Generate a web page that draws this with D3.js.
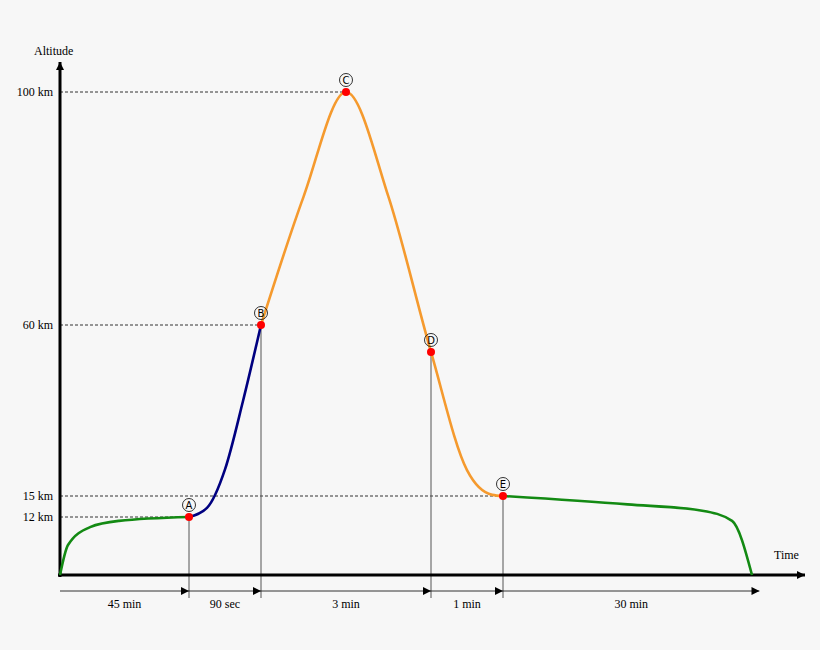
<!DOCTYPE html>
<html><head><meta charset="utf-8">
<script src="https://cdn.jsdelivr.net/npm/d3@7"></script>
<style>body{margin:0;background:#f7f7f7}svg{display:block}text{font-family:"Liberation Serif",serif;font-size:12px}</style>
</head><body><svg id="c" width="820" height="650"></svg>
<script>
// schematic phase boundaries (index) and altitudes (km)
const phaseLabels = ["45 min","90 sec","3 min","1 min","30 min"];
const altTicks = [12,15,60,100];
const climb = [[0,0],[0.062,6.2],[0.233,9.9],[0.457,11.2],[1,12]];
const boost = [[1,12],[1.25,13.3],[1.5,22],[1.75,40],[2,60]];
const coast = [[2,60],[2.25,82],[2.5,100],[2.75,82],[3,52.9],[3.5,21.8],[3.85,15.3],[4,15]];
const glide = [[4,15],[4.5,13.8],[4.8,12.9],[4.92,11.2],[5,0]];
const events = [{n:"A",t:1,a:12},{n:"B",t:2,a:60},{n:"C",t:2.5,a:100},{n:"D",t:3,a:52.9},{n:"E",t:4,a:15}];

const svg = d3.select("#c");
const x = d3.scaleLinear().domain([0,1,2,3,4,5]).range([60,189,261,431,503,752]);
const y = d3.scaleLinear().domain([0,12,15,60,100]).range([575,517,496,325,92]);

svg.append("defs").html('<marker id="ar" viewBox="0 0 10 10" refX="10" refY="5" markerWidth="8" markerHeight="8" orient="auto" markerUnits="userSpaceOnUse"><path d="M0,0L10,5L0,10z" fill="#000"/></marker>');

// dashed guides
const guideEnd = {12:1,15:4,60:2,100:2.5};
altTicks.forEach(a=>{
  svg.append("line").attr("x1",60).attr("x2",x(guideEnd[a])).attr("y1",y(a)).attr("y2",y(a))
    .attr("stroke","#000").attr("stroke-width",0.8).attr("stroke-dasharray","3,2");
  svg.append("text").attr("x",53).attr("y",y(a)+4).attr("text-anchor","end").text(a+" km");
});
// verticals
events.filter(e=>e.n!=="C").forEach(e=>{
  svg.append("line").attr("x1",x(e.t)).attr("x2",x(e.t)).attr("y1",y(e.a)).attr("y2",598)
    .attr("stroke","#555").attr("stroke-width",1);
});
// timeline
const bounds=[0,1,2,3,4,5.03];
for(let i=0;i<5;i++){
  svg.append("line").attr("x1",x(bounds[i])).attr("x2",x(bounds[i+1])).attr("y1",591).attr("y2",591)
    .attr("stroke","#000").attr("stroke-width",0.8).attr("marker-end","url(#ar)");
  svg.append("text").attr("x",(x(bounds[i])+x(bounds[i+1]))/2).attr("y",608).attr("text-anchor","middle").text(phaseLabels[i]);
}
// axes
svg.append("line").attr("x1",60).attr("x2",60).attr("y1",577).attr("y2",62).attr("stroke","#000").attr("stroke-width",3).attr("marker-end","url(#ar)");
svg.append("line").attr("x1",58).attr("x2",805).attr("y1",575).attr("y2",575).attr("stroke","#000").attr("stroke-width",3).attr("marker-end","url(#ar)");
svg.selectAll("marker path");
svg.append("text").attr("x",34).attr("y",55).text("Altitude");
svg.append("text").attr("x",774).attr("y",559).text("Time");

const line = d3.line().x(d=>x(d[0])).y(d=>y(d[1])).curve(d3.curveMonotoneX);
[[climb,"#138a13"],[boost,"#000080"],[coast,"#f59a2e"],[glide,"#138a13"]].forEach(([d,c])=>{
  svg.append("path").attr("d",line(d)).attr("fill","none").attr("stroke",c).attr("stroke-width",2.6);
});
events.forEach(e=>{
  svg.append("circle").attr("cx",x(e.t)).attr("cy",y(e.a)).attr("r",4).attr("fill","#f00");
  svg.append("circle").attr("cx",x(e.t)).attr("cy",y(e.a)-12).attr("r",6.5).attr("fill","none").attr("stroke","#000").attr("stroke-width",0.8);
  svg.append("text").attr("x",x(e.t)).attr("y",y(e.a)-8).attr("text-anchor","middle").style("font-family","DejaVu Sans").style("font-size","10px").text(e.n);
});
</script></body></html>
